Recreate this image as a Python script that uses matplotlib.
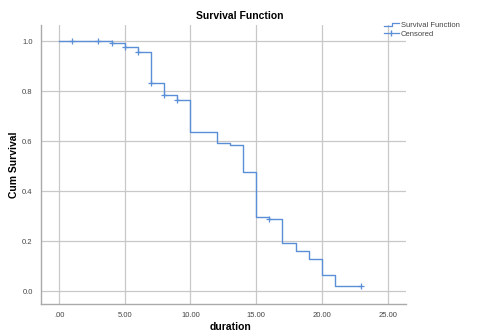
import matplotlib
matplotlib.use("Agg")
import matplotlib.pyplot as plt
from matplotlib.lines import Line2D
from matplotlib.legend_handler import HandlerBase

plt.rcParams["font.family"] = ["Liberation Sans", "DejaVu Sans"]

# Data
event_times = [0, 4, 5, 6, 7, 8, 9, 10, 12, 13, 14, 15, 16, 17, 18, 19, 20, 21, 23]
survival = [1.0, 0.992, 0.975, 0.957, 0.832, 0.785, 0.763, 0.636, 0.593, 0.585,
            0.477, 0.295, 0.287, 0.193, 0.161, 0.127, 0.064, 0.022, 0.022]
censored_times = [1, 3, 4, 5, 6, 7, 8, 9, 16, 23]

x_ticks = [0, 5, 10, 15, 20, 25]
x_tick_labels = [".00", "5.00", "10.00", "15.00", "20.00", "25.00"]
y_ticks = [0.0, 0.2, 0.4, 0.6, 0.8, 1.0]
y_tick_labels = ["0.0", "0.2", "0.4", "0.6", "0.8", "1.0"]

line_color = "#5a8fd8"
grid_color = "#c8c8c8"


def surv_at(t):
    s = survival[0]
    for et, sv in zip(event_times, survival):
        if et <= t:
            s = sv
    return s


fig = plt.figure(figsize=(4.86, 3.35), dpi=100)
ax = fig.add_axes([0.0844, 0.0925, 0.751, 0.8325])

ax.step(event_times, survival, where="post", color=line_color, lw=1.0)
cens_y = [surv_at(t) for t in censored_times]
ax.plot(censored_times, cens_y, linestyle="none", marker="+", color=line_color,
        markersize=4, mew=0.9)

ax.set_xlim(-1.37, 26.4)
ax.set_ylim(-0.052, 1.064)
ax.set_xticks(x_ticks)
ax.set_xticklabels(x_tick_labels)
ax.set_yticks(y_ticks)
ax.set_yticklabels(y_tick_labels)
ax.tick_params(length=0, labelsize=5.5, colors="#444444", pad=6)
ax.grid(True, color=grid_color, lw=0.9)
ax.set_axisbelow(True)
for side in ["top", "right"]:
    ax.spines[side].set_visible(False)
for side in ["left", "bottom"]:
    ax.spines[side].set_color("#aaaaaa")
    ax.spines[side].set_linewidth(1.0)

fig.text(240 / 486, 1 - 16 / 335, "Survival Function", fontsize=7.5,
         fontweight="bold", ha="center", va="center")
fig.text(230 / 486, 1 - 327 / 335, "duration", fontsize=7.5,
         fontweight="bold", ha="center", va="center")
fig.text(14 / 486, 1 - 165 / 335, "Cum Survival", fontsize=7.5,
         fontweight="bold", ha="center", va="center", rotation=90)


class StepHandler(HandlerBase):
    def create_artists(self, legend, orig_handle, xdescent, ydescent, width,
                       height, fontsize, trans):
        xs = [0, width * 0.55, width * 0.55, width]
        h = height
        ys = [h * 0.3, h * 0.3, h * 0.8, h * 0.8]
        ln = Line2D(xs, ys, color=line_color, lw=0.9, transform=trans)
        return [ln]


step_handle = Line2D([], [], color=line_color)
cens_handle = Line2D([], [], color=line_color, lw=0.9, marker="|", markersize=5)
fig.legend([step_handle, cens_handle], ["Survival Function", "Censored"],
           handler_map={step_handle: StepHandler()},
           loc="upper left", bbox_to_anchor=(0.775, 0.955), frameon=False,
           fontsize=5.5, handlelength=2.0, handletextpad=0.3, labelspacing=0.2,
           labelcolor="#444444")

fig.savefig("out.png", dpi=100)
